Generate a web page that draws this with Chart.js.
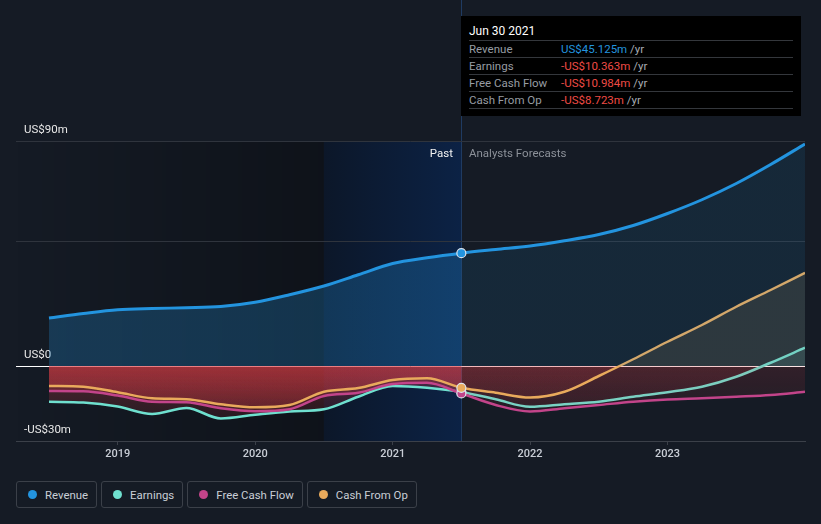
<!DOCTYPE html>
<html>
<head>
<meta charset="utf-8">
<style>
  html, body { margin: 0; padding: 0; background: #151b25; width: 821px; height: 524px; overflow: hidden; font-family: Roboto, sans-serif; }
  #wrap { position: absolute; left: 0; top: 0; width: 821px; height: 470px; }
  .note { position: absolute; top: 146px; font-size: 11.5px; line-height: 14px; }
  #past { left: 380px; width: 73px; text-align: right; color: #f2f2f2; }
  #fc { left: 469px; color: #8c9199; }
  #tip { position: absolute; left: 461px; top: 16px; width: 340px; height: 100px; background: #000; }
  #tip .title { position: absolute; left: 8px; top: 8px; color: #fff; font-size: 12px; }
  #tip .row { position: absolute; left: 8px; width: 324px; height: 16px; border-top: 1px solid #34373c; font-size: 11.5px; line-height: 16px; color: #979ca3; }
  #tip .row span.v { position: absolute; left: 92px; }
  #tip .last { position: absolute; left: 8px; top: 92px; width: 324px; border-top: 1px solid #34373c; }
  .yr { color: #a8adb3; }
  #legend { position: absolute; left: 16px; top: 481px; display: flex; gap: 4px; }
  .item { height: 25px; border: 1px solid #3b4049; border-radius: 3px; display: flex; align-items: center; padding: 0 8px 0 11px; color: #c9ced6; font-size: 11.4px; }
  .dot { width: 9px; height: 9px; border-radius: 50%; margin-right: 8px; }
</style>
</head>
<body>
<div id="wrap"><canvas id="chart" width="821" height="470"></canvas></div>
<div id="past" class="note">Past</div>
<div id="fc" class="note">Analysts Forecasts</div>
<div id="tip"></div>
<div id="legend"></div>
<script src="https://cdn.jsdelivr.net/npm/chart.js@4.4.0/dist/chart.umd.min.js"></script>
<script>
// quarter points, decimal years (Jun 2018 .. Dec 2023)
const dates = [2018.5, 2018.75, 2019.0, 2019.25, 2019.5, 2019.75, 2020.0, 2020.25, 2020.5, 2020.75,
  2021.0, 2021.25, 2021.5, 2021.75, 2022.0, 2022.25, 2022.5, 2022.75, 2023.0, 2023.25, 2023.5, 2023.75, 2024.0];

// US$m
const revenue = [19.2, 21.0, 22.5, 23.0, 23.3, 23.8, 25.5, 28.5, 32.0, 36.5, 41.0, 43.3, 45.125,
  46.6, 48.0, 50.1, 52.6, 56.2, 61.0, 66.5, 73.0, 80.6, 88.8];
const earnings = [-14.3, -14.6, -16.2, -19.2, -16.8, -21.0, -19.5, -18.2, -17.3, -12.3, -8.0, -8.7, -10.363,
  -13.3, -16.3, -15.3, -14.3, -12.3, -10.5, -8.3, -4.3, 1.3, 7.3];
const freeCashFlow = [-10.0, -10.1, -11.8, -14.3, -14.5, -16.9, -18.1, -17.3, -12.0, -10.7, -7.2, -6.7, -10.984,
  -15.6, -18.2, -16.9, -15.6, -14.3, -13.4, -12.9, -12.3, -11.6, -10.3];
const cashFromOp = [-8.0, -8.3, -10.5, -12.9, -13.3, -15.3, -16.5, -15.6, -10.3, -8.8, -5.6, -4.9, -8.723,
  -10.7, -12.6, -10.3, -4.0, 2.7, 9.7, 16.4, 23.7, 30.4, 37.3];

const xTicks = [2019, 2020, 2021, 2022, 2023];
const yTicks = [-30, 0, 50, 90];
const yLabels = { '-30': '-US$30m', '0': 'US$0', '90': 'US$90m' };

const highlightStart = 2020.5;
const pastEnd = 2021.5;
const tipTitle = 'Jun 30 2021';

const seriesNames = ['Revenue', 'Earnings', 'Free Cash Flow', 'Cash From Op'];
const seriesColors = ['#2394df', '#6fe0cf', '#c2448a', '#e9aa5c'];
const tipValues = ['US$45.125m', '-US$10.363m', '-US$10.984m', '-US$8.723m'];
const tipColors = ['#2394df', '#ee4b45', '#ee4b45', '#ee4b45'];

// tooltip box and legend
const tip = document.getElementById('tip');
tip.innerHTML = '<div class="title">' + tipTitle + '</div>' +
  seriesNames.map((n, i) => '<div class="row" style="top:' + (24 + i * 17) + 'px">' + n +
    '<span class="v"><span style="color:' + tipColors[i] + '">' + tipValues[i] + '</span> <span class="yr">/yr</span></span></div>').join('') +
  '<div class="last"></div>';
document.getElementById('legend').innerHTML = seriesNames.map((n, i) =>
  '<div class="item"><span class="dot" style="background:' + seriesColors[i] + '"></span>' + n + '</div>').join('');

// horizontal gradient that switches colour at the past/forecast line
function splitFill(pastColor, futureColor) {
  return (c) => {
    const chart = c.chart;
    const a = chart.chartArea;
    if (!a || !chart.scales.x) return futureColor;
    const xp = chart.scales.x.getPixelForValue(pastEnd);
    const f = Math.min(Math.max((xp - a.left) / (a.right - a.left), 0), 1);
    const g = chart.ctx.createLinearGradient(a.left, 0, a.right, 0);
    g.addColorStop(0, pastColor);
    g.addColorStop(f, pastColor);
    g.addColorStop(f, futureColor);
    g.addColorStop(1, futureColor);
    return g;
  };
}

// red below zero: stronger in the past, fading downwards
function redBelow(c) {
  const chart = c.chart;
  const a = chart.chartArea;
  if (!a || !chart.scales.x) return 'rgba(226,62,70,0.15)';
  const off = document.createElement('canvas');
  off.width = chart.width;
  off.height = chart.height;
  const o = off.getContext('2d');
  const xp = chart.scales.x.getPixelForValue(pastEnd);
  const y0 = chart.scales.y.getPixelForValue(0);
  const y1 = chart.scales.y.getPixelForValue(-22);
  let g = o.createLinearGradient(0, y0, 0, y1);
  g.addColorStop(0, 'rgba(226,62,70,0.31)');
  g.addColorStop(1, 'rgba(226,62,70,0.10)');
  o.fillStyle = g;
  o.fillRect(0, 0, xp, off.height);
  g = o.createLinearGradient(0, y0, 0, y1);
  g.addColorStop(0, 'rgba(226,62,70,0.14)');
  g.addColorStop(1, 'rgba(226,62,70,0.06)');
  o.fillStyle = g;
  o.fillRect(xp, 0, off.width - xp, off.height);
  return chart.ctx.createPattern(off, 'no-repeat');
}

function series(values, i, above, below) {
  return {
    label: seriesNames[i],
    data: values.map((v, k) => ({ x: dates[k], y: v })),
    borderColor: seriesColors[i],
    borderWidth: i === 0 ? 3 : 2.5,
    backgroundColor: seriesColors[i],
    fill: { target: 'origin', above: above, below: below },
    cubicInterpolationMode: 'monotone',
    pointRadius: (c) => dates[c.dataIndex] === pastEnd ? 4.5 : 0,
    pointBackgroundColor: seriesColors[i],
    pointBorderColor: '#dde4ee',
    pointBorderWidth: 1.2,
  };
}

const backdrop = {
  id: 'backdrop',
  beforeDraw(chart) {
    const { ctx, chartArea: a, scales: { x } } = chart;
    const x0 = x.getPixelForValue(highlightStart);
    const x1 = x.getPixelForValue(pastEnd);
    ctx.save();
    let g = ctx.createLinearGradient(a.left, 0, x0, 0);
    g.addColorStop(0, 'rgba(0,0,0,0)');
    g.addColorStop(1, 'rgba(0,0,0,0.3)');
    ctx.fillStyle = g;
    ctx.fillRect(a.left, a.top, x0 - a.left, a.bottom - a.top);
    g = ctx.createLinearGradient(x0, 0, x1, 0);
    g.addColorStop(0, '#0c1729');
    g.addColorStop(1, '#0c2245');
    ctx.fillStyle = g;
    ctx.fillRect(x0, a.top, x1 - x0, a.bottom - a.top);
    ctx.strokeStyle = '#1f3b62';
    ctx.lineWidth = 1;
    ctx.beginPath();
    ctx.moveTo(Math.round(x1) + 0.5, 0);
    ctx.lineTo(Math.round(x1) + 0.5, a.bottom);
    ctx.stroke();
    ctx.restore();
  }
};

new Chart(document.getElementById('chart'), {
  type: 'line',
  data: {
    datasets: [
      series(revenue, 0, splitFill('rgba(35,148,223,0.26)', 'rgba(35,148,223,0.11)'), 'rgba(0,0,0,0)'),
      series(cashFromOp, 3, 'rgba(233,170,92,0.12)', redBelow),
      series(freeCashFlow, 2, 'rgba(194,68,138,0.12)', redBelow),
      series(earnings, 1, 'rgba(111,224,207,0.13)', redBelow),
    ],
  },
  options: {
    responsive: false,
    animation: false,
    events: [],
    layout: { padding: { left: 16, right: 16, top: 141, bottom: 0 } },
    plugins: { legend: { display: false }, tooltip: { enabled: false } },
    scales: {
      x: {
        type: 'linear',
        min: 2018.26,
        max: 2024.0,
        afterBuildTicks: (s) => { s.ticks = xTicks.map(v => ({ value: v })); },
        afterFit: (s) => { s.height = 29; },
        ticks: {
          callback: (v) => String(v),
          color: '#c9ced6',
          font: { family: 'Roboto', size: 11, weight: 500 },
          padding: 3,
          maxRotation: 0,
        },
        grid: { drawOnChartArea: false, drawTicks: true, tickLength: 4, color: '#3b4049' },
        border: { color: '#3b4049' },
      },
      y: {
        min: -30,
        max: 90,
        afterBuildTicks: (s) => { s.ticks = yTicks.map(v => ({ value: v })); },
        afterFit: (s) => { s.width = 0; },
        ticks: {
          mirror: true,
          padding: 8,
          labelOffset: -11,
          callback: (v) => yLabels[String(v)] || '',
          color: '#e8e8e8',
          font: { family: 'Roboto', size: 11.5 },
        },
        grid: {
          drawTicks: false,
          color: (c) => c.tick.value === 0 ? '#ffffff' : (c.tick.value === -30 ? 'rgba(0,0,0,0)' : '#2f343d'),
          lineWidth: 1,
        },
        border: { display: false },
      },
    },
  },
  plugins: [backdrop],
});
</script>
</body>
</html>
